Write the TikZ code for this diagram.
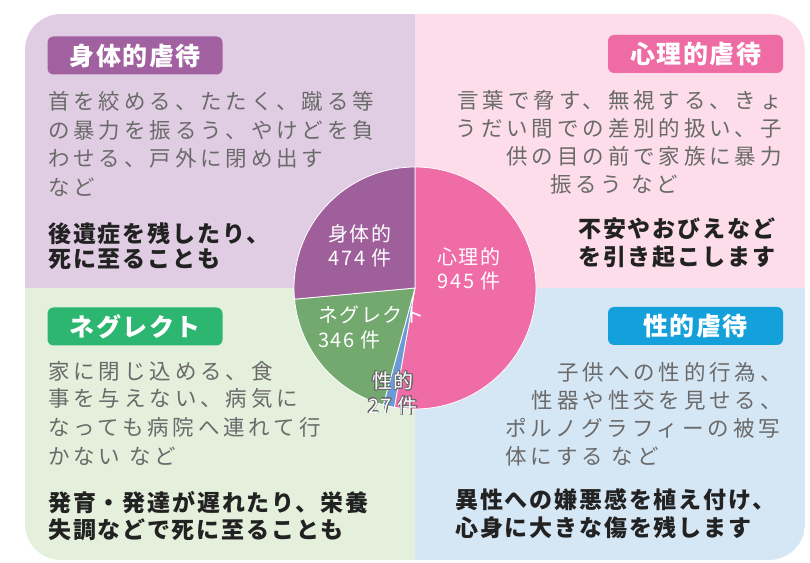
\documentclass[tikz,border=0pt]{standalone}
\usepackage{fontspec}
\usepackage{contour}
\setmainfont{Noto Sans CJK JP}
\newfontfamily\tagfont[LetterSpace=6]{Noto Sans CJK JP}
\newfontfamily\bodyfont[LetterSpace=18]{Noto Sans CJK JP}
\newfontfamily\strongfont[LetterSpace=8]{Noto Sans CJK JP}
\newfontfamily\piefont[LetterSpace=8]{Noto Sans CJK JP}
\usetikzlibrary{positioning}
\definecolor{physbg}{HTML}{E1CDE3}
\definecolor{psychbg}{HTML}{FCDDE9}
\definecolor{neglbg}{HTML}{E4EFDC}
\definecolor{sexbg}{HTML}{D5E6F5}
\definecolor{phystag}{HTML}{A1609F}
\definecolor{psychtag}{HTML}{EE6BA4}
\definecolor{negltag}{HTML}{2CB66F}
\definecolor{sextag}{HTML}{14A0DB}
\definecolor{physpie}{HTML}{9E5F9B}
\definecolor{psychpie}{HTML}{F06CA6}
\definecolor{neglpie}{HTML}{73A86F}
\definecolor{sexpie}{HTML}{6B9BD5}
\definecolor{bodygray}{HTML}{6A6A6A}
\definecolor{strongblack}{HTML}{222222}
\contourlength{0.7pt}
\tikzset{%
  tag/.style = {rectangle, rounded corners=6pt, minimum width=175pt, minimum height=38pt,
                text=white, font=\tagfont\bfseries\fontsize{25}{30}\selectfont},
  body/.style = {inner sep=0pt, text=bodygray, font=\bodyfont\fontsize{21.5}{26}\selectfont},
  strong/.style = {inner sep=0pt, text=strongblack, font=\strongfont\bfseries\fontsize{23}{28}\selectfont},
  pielabel/.style = {inner sep=0pt, text=white, align=center, font=\piefont\fontsize{20}{24.5}\selectfont}
}

\begin{document}
\begin{tikzpicture}[x=1pt, y=1pt]
    \useasboundingbox (0,0) rectangle (810,562);

    % card with four quadrants
    \begin{scope}
      \clip[rounded corners=36pt] (25,2) rectangle (805,548);
      \fill[physbg]  (25,274)  rectangle (415,548);
      \fill[psychbg] (415,274) rectangle (805,548);
      \fill[neglbg]  (25,2)    rectangle (415,274);
      \fill[sexbg]   (415,2)   rectangle (805,274);
    \end{scope}

    \node (phystitle)  [tag, fill=phystag]  at (135,506.5) {身体的虐待};
    \node (psychtitle) [tag, fill=psychtag] at (695.5,508) {心理的虐待};
    \node (negltitle)  [tag, fill=negltag]  at (135,235.5) {ネグレクト};
    \node (sextitle)   [tag, fill=sextag]   at (695.5,236) {性的虐待};

    \node (physa) [body, anchor=west] at (48,461) {首を絞める、たたく、蹴る等};
    \node (physb) [body, anchor=west] at (48,432) {の暴力を振るう、やけどを負};
    \node (physc) [body, anchor=west] at (48,404) {わせる、戸外に閉め出す};
    \node (physd) [body, anchor=west] at (48,375) {など};
    \node (physe) [strong, anchor=west] at (48,328) {後遺症を残したり、};
    \node (physf) [strong, anchor=west] at (48,303) {死に至ることも};

    \node (psycha) [body, anchor=east] at (782,462) {言葉で脅す、無視する、きょ};
    \node (psychb) [body, anchor=east] at (782,434) {うだい間での差別的扱い、子};
    \node (psychc) [body, anchor=east] at (782,406) {供の目の前で家族に暴力};
    \node (psychd) [body, anchor=west] at (550,378) {振るう など};
    \node (psyche) [strong, anchor=west] at (578,333) {不安やおびえなど};
    \node (psychf) [strong, anchor=west] at (578,305) {を引き起こします};

    \node (negla) [body, anchor=west] at (48,191) {家に閉じ込める、食};
    \node (neglb) [body, anchor=west] at (48,164) {事を与えない、病気に};
    \node (neglc) [body, anchor=west] at (48,135) {なっても病院へ連れて行};
    \node (negld) [body, anchor=west] at (48,106) {かない など};
    \node (negle) [strong, anchor=west] at (48,59) {発育・発達が遅れたり、栄養};
    \node (neglf) [strong, anchor=west] at (48,32) {失調などで死に至ることも};

    \node (sexa) [body, anchor=east] at (782,190) {子供への性的行為、};
    \node (sexb) [body, anchor=east] at (782,162) {性器や性交を見せる、};
    \node (sexc) [body, anchor=west] at (505,134) {ポルノグラフィーの被写};
    \node (sexd) [body, anchor=west] at (505,106) {体にする など};
    \node (sexe) [strong, anchor=west] at (455,62) {異性への嫌悪感を植え付け、};
    \node (sexf) [strong, anchor=west] at (455,34) {心身に大きな傷を残します};

    % pie: 945 / 27 / 346 / 474
    \coordinate (ctr) at (415,274);
    \foreach \from/\to/\col in {90/-99.8/psychpie, -99.8/-105.2/sexpie,
                                -105.2/-174.7/neglpie, -174.7/-270/physpie}
      \filldraw[fill=\col, draw=white, line width=0.8pt]
        (ctr) -- +(\from:121) arc[start angle=\from, end angle=\to, radius=121] -- cycle;

    \node (physpct)  [pielabel] at (360,316) {身体的\\474 件};
    \node (psychpct) [pielabel] at (469,293) {心理的\\945 件};
    \node (neglpct)  [pielabel, align=left, anchor=west] at (318,234.5) {ネグレクト\\346 件};
    \node (sexpct)   [pielabel] at (393,168.5)
      {\contour{black!60}{性的}\\\contour{black!60}{27 件}};
\end{tikzpicture}
\end{document}
